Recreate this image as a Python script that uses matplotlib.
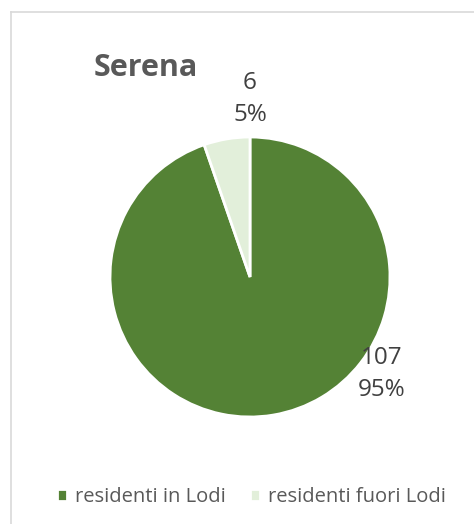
import matplotlib
matplotlib.use("Agg")
import matplotlib.pyplot as plt
from matplotlib.lines import Line2D

title = "Serena"
categories = ["residenti in Lodi", "residenti fuori Lodi"]
values = [107, 6]
percents = ["95%", "5%"]
colors = ["#548235", "#E2EFDA"]
text_color = "#595959"

plt.rcParams['font.family'] = ['Open Sans', 'DejaVu Sans']

fig = plt.figure(figsize=(4.74, 5.24), dpi=100)
fig.patch.set_facecolor("white")

# frame lines (top and left)
fig.add_artist(Line2D([11/474, 1.0], [1 - 12/524, 1 - 12/524], transform=fig.transFigure,
                      color="#D9D9D9", lw=1.2))
fig.add_artist(Line2D([11/474, 11/474], [0, 1 - 12/524], transform=fig.transFigure,
                      color="#D9D9D9", lw=1.2))

ax = fig.add_axes([110/474, 107/524, 280/474, 280/524])
wedges, _ = ax.pie(values, colors=colors, startangle=90, counterclock=False,
                   wedgeprops=dict(edgecolor="white", linewidth=2))
ax.set_xlim(-1, 1)
ax.set_ylim(-1, 1)
ax.set_aspect("equal")

label_pos = [(0.94, -0.69), (0.0, 1.27)]
for v, p, (x, y) in zip(values, percents, label_pos):
    ax.text(x, y, f"{v}\n{p}", ha="center", va="center", fontsize=17.5,
            color="#404040", linespacing=1.45, clip_on=False)

fig.text(146/474, 1 - 68/524, title, ha="center", va="center", fontsize=22,
         fontweight="bold", color=text_color)

fig.legend(wedges, categories, loc="center", bbox_to_anchor=(0.53, 1 - 497/524),
           ncol=2, frameon=False, fontsize=14.5, handlelength=0.5, handleheight=0.5,
           handletextpad=0.4, columnspacing=1.2, labelcolor=text_color)

fig.savefig("out.png", dpi=100, facecolor="white")
